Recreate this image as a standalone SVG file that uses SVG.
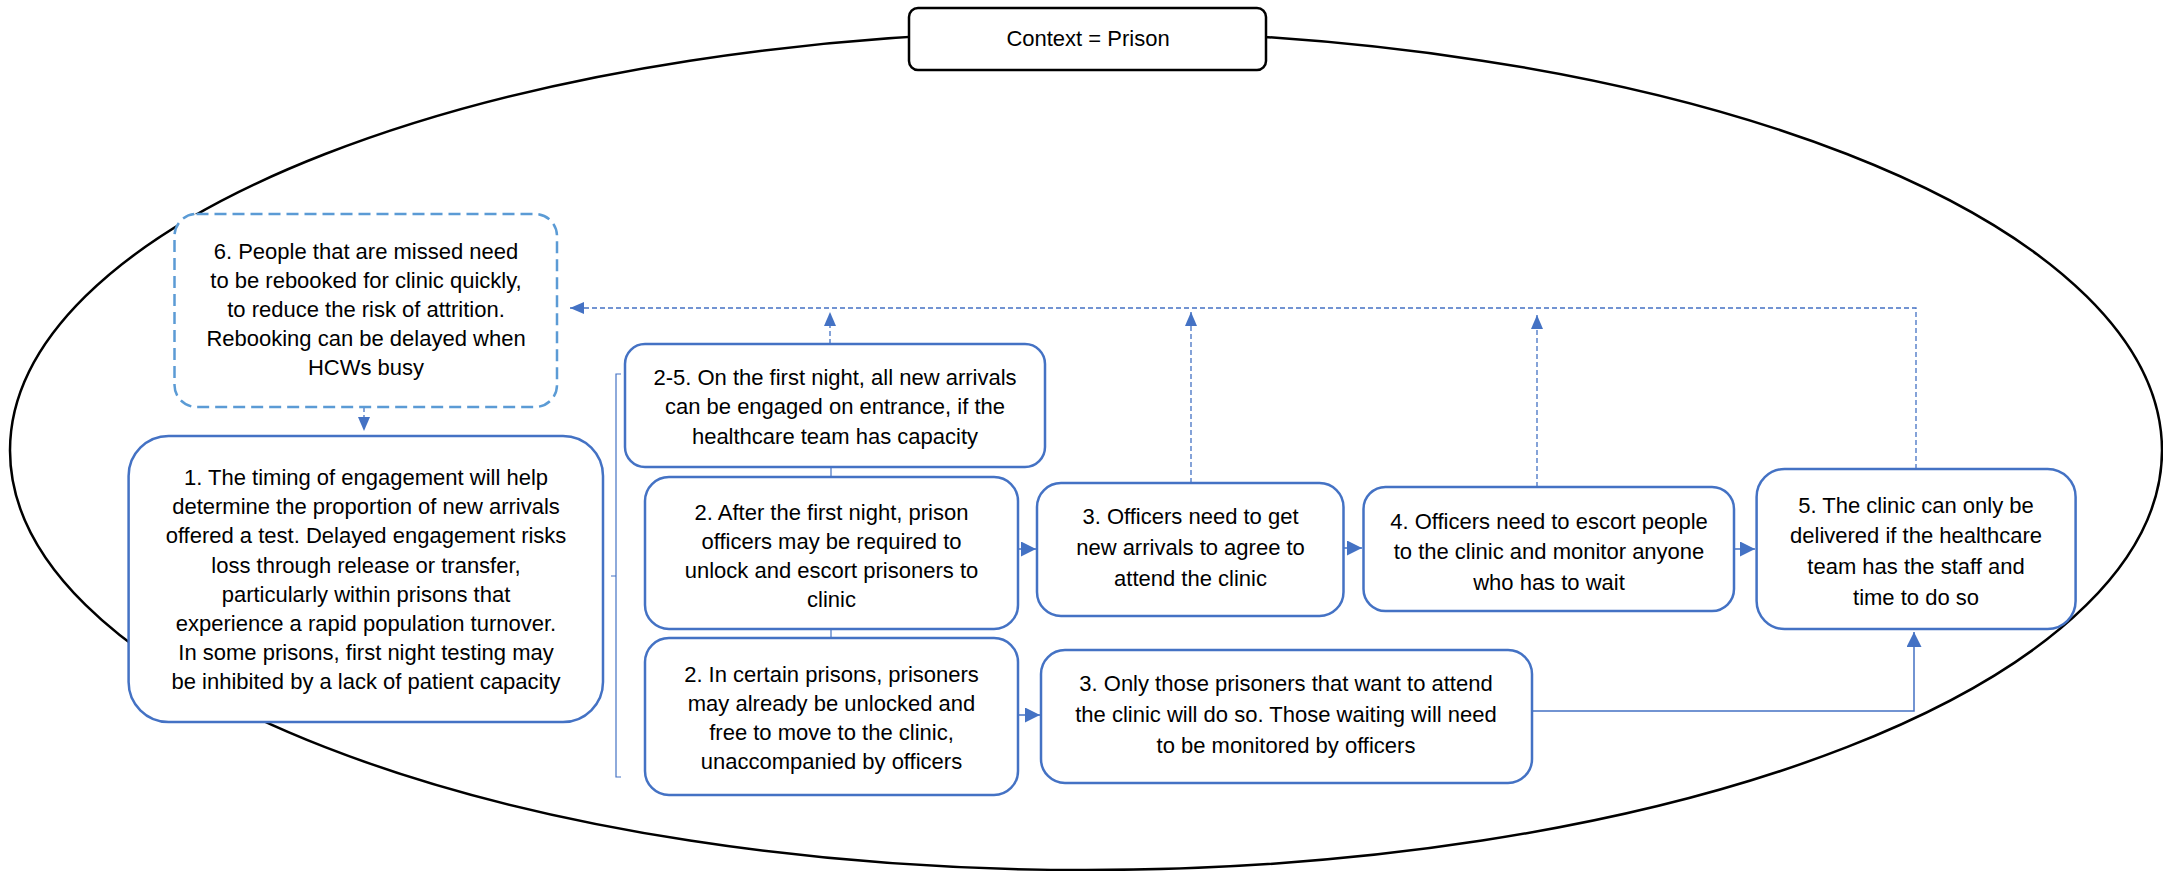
<svg xmlns="http://www.w3.org/2000/svg" width="2163" height="871" viewBox="0 0 2163 871">
<defs>
<style>
.node rect{fill:#fff;stroke:#4472C4;stroke-width:2.5}
#n6 rect{fill:#fff;stroke:#5B9BD5;stroke-width:2.5;stroke-dasharray:12 6}
#ctx rect{fill:#fff;stroke:#000;stroke-width:2.5}
text{font-family:"Liberation Sans",Arial,sans-serif;font-size:22px;fill:#000;text-anchor:middle}
.solid{fill:none;stroke:#4472C4;stroke-width:1.5}
.dash{fill:none;stroke:#4472C4;stroke-width:1.3;stroke-dasharray:5 3}
.thin{fill:none;stroke:#4472C4;stroke-width:1.2}
</style>
<marker id="ah" viewBox="0 0 15 15" refX="15" refY="7.5" markerWidth="15" markerHeight="15" markerUnits="userSpaceOnUse" orient="auto">
<path d="M0,0 L15,7.5 L0,15 z" fill="#4472C4"/>
</marker>
<marker id="ahd" viewBox="0 0 14 12" refX="14" refY="6" markerWidth="14" markerHeight="12" markerUnits="userSpaceOnUse" orient="auto">
<path d="M0,0 L14,6 L0,12 z" fill="#4472C4"/>
</marker>
</defs>
<rect width="2163" height="871" fill="#fff"/>
<ellipse cx="1086" cy="450.6" rx="1076" ry="419.4" fill="none" stroke="#000" stroke-width="2.5"/>

<g id="connectors">
<path class="dash" d="M364,407 V431" marker-end="url(#ahd)"/>
<path class="dash" d="M1916,469 V308 H570" marker-end="url(#ahd)"/>
<path class="dash" d="M830,344 V312" marker-end="url(#ahd)"/>
<path class="dash" d="M1191,483 V312" marker-end="url(#ahd)"/>
<path class="dash" d="M1537,487 V315" marker-end="url(#ahd)"/>
<path class="solid" d="M1018,549 H1036" marker-end="url(#ah)"/>
<path class="solid" d="M1344,548 H1362" marker-end="url(#ah)"/>
<path class="solid" d="M1734,549 H1755" marker-end="url(#ah)"/>
<path class="solid" d="M1018,715 H1040" marker-end="url(#ah)"/>
<path class="solid" d="M1533,711 H1914 V632" marker-end="url(#ah)"/>
<path class="thin" d="M831,467 V477 M831,629 V638"/>
<path class="thin" d="M621,374 H616 V777 H621 M611,576 H616"/>
</g>

<g id="ctx">
<rect x="909" y="8" width="357" height="62" rx="9"/>
<text x="1088" y="46">Context = Prison</text>
</g>

<g id="n6">
<rect x="174.5" y="214" width="382.5" height="193" rx="22"/>
<text x="366" y="259">6. People that are missed need</text>
<text x="366" y="288">to be rebooked for clinic quickly,</text>
<text x="366" y="317">to reduce the risk of attrition.</text>
<text x="366" y="346">Rebooking can be delayed when</text>
<text x="366" y="375">HCWs busy</text>
</g>

<g id="n1" class="node">
<rect x="128.6" y="436" width="474.4" height="286" rx="40"/>
<text x="366" y="485">1. The timing of engagement will help</text>
<text x="366" y="514">determine the proportion of new arrivals</text>
<text x="366" y="543">offered a test. Delayed engagement risks</text>
<text x="366" y="573">loss through release or transfer,</text>
<text x="366" y="602">particularly within prisons that</text>
<text x="366" y="631">experience a rapid population turnover.</text>
<text x="366" y="660">In some prisons, first night testing may</text>
<text x="366" y="689">be inhibited by a lack of patient capacity</text>
</g>

<g id="n25" class="node">
<rect x="625" y="344" width="420" height="123" rx="20"/>
<text x="835" y="385">2-5. On the first night, all new arrivals</text>
<text x="835" y="414">can be engaged on entrance, if the</text>
<text x="835" y="444">healthcare team has capacity</text>
</g>

<g id="n2a" class="node">
<rect x="645" y="477" width="373" height="152" rx="24"/>
<text x="831.5" y="520">2. After the first night, prison</text>
<text x="831.5" y="549">officers may be required to</text>
<text x="831.5" y="578">unlock and escort prisoners to</text>
<text x="831.5" y="607">clinic</text>
</g>

<g id="n2b" class="node">
<rect x="645" y="638" width="373" height="157" rx="24"/>
<text x="831.5" y="682">2. In certain prisons, prisoners</text>
<text x="831.5" y="711">may already be unlocked and</text>
<text x="831.5" y="740">free to move to the clinic,</text>
<text x="831.5" y="769">unaccompanied by officers</text>
</g>

<g id="n3a" class="node">
<rect x="1037" y="483" width="306.5" height="133" rx="24"/>
<text x="1190.5" y="524">3. Officers need to get</text>
<text x="1190.5" y="555">new arrivals to agree to</text>
<text x="1190.5" y="586">attend the clinic</text>
</g>

<g id="n4" class="node">
<rect x="1363.5" y="487" width="370.5" height="124" rx="22"/>
<text x="1549" y="529">4. Officers need to escort people</text>
<text x="1549" y="559">to the clinic and monitor anyone</text>
<text x="1549" y="590">who has to wait</text>
</g>

<g id="n5" class="node">
<rect x="1756.6" y="469" width="319" height="160" rx="28"/>
<text x="1916" y="513">5. The clinic can only be</text>
<text x="1916" y="543">delivered if the healthcare</text>
<text x="1916" y="574">team has the staff and</text>
<text x="1916" y="605">time to do so</text>
</g>

<g id="n3b" class="node">
<rect x="1041" y="650" width="491" height="133" rx="24"/>
<text x="1286" y="691">3. Only those prisoners that want to attend</text>
<text x="1286" y="722">the clinic will do so. Those waiting will need</text>
<text x="1286" y="753">to be monitored by officers</text>
</g>
</svg>
